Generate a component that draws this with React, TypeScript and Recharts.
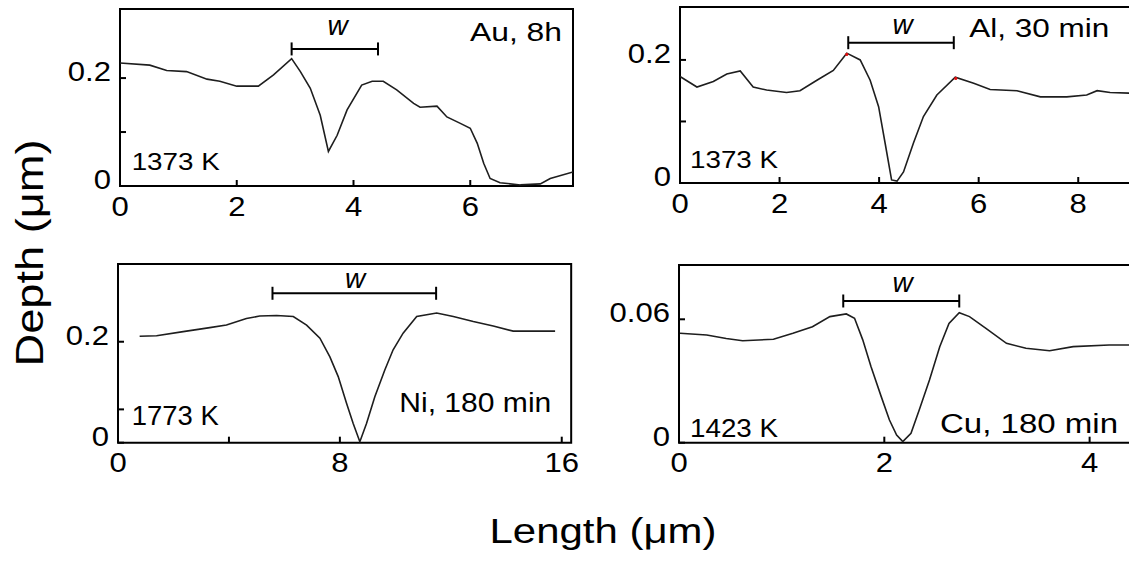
import React from 'react';
import { LineChart, Line, XAxis, YAxis, ReferenceArea, ReferenceLine, ReferenceDot } from 'recharts';

// Au, 8h (1373 K)
const auLength = [0, 0.51, 0.8, 1.14, 1.49, 1.71, 2.0, 2.37, 2.63, 2.94, 3.09, 3.26, 3.43, 3.57, 3.72, 3.89, 4.14, 4.32, 4.51, 4.74, 5.03, 5.14, 5.43, 5.6, 5.83, 6.0, 6.12, 6.23, 6.34, 6.51, 6.86, 7.2, 7.37, 7.76];
const auDepth = [0.228, 0.224, 0.214, 0.212, 0.198, 0.194, 0.185, 0.185, 0.206, 0.236, 0.212, 0.181, 0.131, 0.064, 0.094, 0.141, 0.187, 0.194, 0.194, 0.178, 0.153, 0.146, 0.148, 0.128, 0.116, 0.107, 0.079, 0.042, 0.014, 0.006, 0.002, 0.004, 0.014, 0.026];
const auW = [2.94, 4.42, 0.254];

// Al, 30 min (1373 K)
const alLength = [0, 0.34, 0.67, 0.94, 1.21, 1.47, 1.74, 2.14, 2.41, 2.75, 3.08, 3.35, 3.62, 3.82, 3.99, 4.12, 4.25, 4.36, 4.49, 4.69, 4.89, 5.16, 5.53, 5.9, 6.23, 6.77, 7.24, 7.77, 8.17, 8.38, 8.64, 9.06];
const alDepth = [0.173, 0.156, 0.165, 0.177, 0.182, 0.156, 0.151, 0.147, 0.15, 0.167, 0.183, 0.211, 0.2, 0.167, 0.124, 0.065, 0.005, 0.003, 0.018, 0.065, 0.108, 0.143, 0.172, 0.162, 0.152, 0.15, 0.14, 0.14, 0.143, 0.15, 0.147, 0.146];
const alW = [3.38, 5.5, 0.228];
const alMarks = [[3.35, 0.209], [5.54, 0.17]];

// Ni, 180 min (1773 K)
const niLength = [0.78, 1.39, 2.35, 3.31, 3.91, 4.63, 5.11, 5.72, 6.32, 6.8, 7.28, 7.64, 7.94, 8.24, 8.48, 8.72, 8.96, 9.26, 9.62, 9.92, 10.28, 10.77, 11.49, 12.09, 12.81, 13.53, 14.25, 15.76];
const niDepth = [0.211, 0.212, 0.22, 0.228, 0.233, 0.246, 0.251, 0.252, 0.25, 0.233, 0.207, 0.17, 0.131, 0.078, 0.038, 0.002, 0.038, 0.091, 0.144, 0.184, 0.217, 0.25, 0.257, 0.25, 0.24, 0.231, 0.221, 0.221];
const niW = [5.57, 11.47, 0.296];

// Cu, 180 min (1423 K)
const cuLength = [0.01, 0.27, 0.46, 0.62, 0.92, 1.11, 1.3, 1.47, 1.63, 1.71, 1.79, 1.87, 1.97, 2.05, 2.12, 2.18, 2.26, 2.34, 2.44, 2.54, 2.63, 2.73, 2.83, 2.99, 3.19, 3.38, 3.61, 3.84, 4.19, 4.4];
const cuDepth = [0.0532, 0.0524, 0.0507, 0.0496, 0.0503, 0.0532, 0.0564, 0.0613, 0.0626, 0.0605, 0.05, 0.037, 0.0224, 0.011, 0.0037, 0.0005, 0.0046, 0.0159, 0.0305, 0.0467, 0.058, 0.0632, 0.0613, 0.0556, 0.0483, 0.0459, 0.0447, 0.0467, 0.0475, 0.0475];
const cuW = [1.6, 2.73, 0.0689];

// axis ticks (labelled ones listed separately)
const auXTicks = [0, 2, 4, 6];
const alXTicks = [0, 2, 4, 6, 8];
const niXTicks = [0, 4, 8, 16];
const niXLabels = [0, 8, 16];
const cuXTicks = [0, 2, 4];
const y02Ticks = [0, 0.1, 0.2];
const niYTicks = [0, 0.066, 0.2];
const cuYTicks = [0, 0.06];

const FONT = '"Liberation Sans", Arial, Helvetica, sans-serif';
const YW = 70;
const XH = 45;
const PAD = 4;

const toRows = (xs: number[], ys: number[]) => xs.map((x, i) => ({ x, y: ys[i] }));

const XTick = (props: any) => {
  const { x, y, payload, shown } = props;
  if (!shown.includes(payload.value)) return null;
  return (
    <text transform={`translate(${x},${y + 19.5}) scale(1.15,1)`} textAnchor="middle"
      fontSize={27} fontFamily={FONT} fill="#000">{payload.value}</text>
  );
};

const YTick = (props: any) => {
  const { x, y, payload, shown } = props;
  if (!shown.includes(payload.value)) return null;
  return (
    <text transform={`translate(${x},${y + 3}) scale(1.15,1)`} textAnchor="end"
      fontSize={27} fontFamily={FONT} fill="#000">{payload.value}</text>
  );
};

const WBar = (p: any) => (
  <g>
    <line x1={p.x1} y1={p.y1} x2={p.x2} y2={p.y2} stroke="#000" strokeWidth={2} />
    <line x1={p.x1} y1={p.y1 - 6.5} x2={p.x1} y2={p.y1 + 6.5} stroke="#000" strokeWidth={2} />
    <line x1={p.x2} y1={p.y2 - 6.5} x2={p.x2} y2={p.y2 + 6.5} stroke="#000" strokeWidth={2} />
  </g>
);

type PanelProps = {
  xs: number[];
  ys: number[];
  w: number[];
  box: { left: number; top: number; right: number; bottom: number };
  xMax: number;
  yMax: number;
  xTicks: number[];
  xLabels: number[];
  yTicks: number[];
  yLabels: number[];
  marks?: number[][];
  padRight?: number;
};

const Panel = ({ xs, ys, w, box, xMax, yMax, xTicks, xLabels, yTicks, yLabels, marks = [], padRight = PAD }: PanelProps) => {
  const width = box.right - box.left + YW + padRight;
  const height = box.bottom - box.top + PAD + XH;
  return (
    <div style={{ position: 'absolute', left: box.left - YW, top: box.top - PAD }}>
      <LineChart width={width} height={height} data={toRows(xs, ys)}
        margin={{ top: PAD, right: padRight, bottom: 0, left: 0 }}>
        <XAxis type="number" dataKey="x" domain={[0, xMax]} ticks={xTicks} interval={0}
          allowDataOverflow height={XH} axisLine={false}
          tickLine={{ stroke: '#000', strokeWidth: 2 }} tickSize={-6} tickMargin={16}
          tick={<XTick shown={xLabels} />} />
        <YAxis type="number" domain={[0, yMax]} ticks={yTicks} interval={0}
          allowDataOverflow width={YW} axisLine={false}
          tickLine={{ stroke: '#000', strokeWidth: 2 }} tickSize={-6} tickMargin={15}
          tick={<YTick shown={yLabels} />} />
        <ReferenceArea x1={0} x2={xMax} y1={0} y2={yMax} fill="none" stroke="#000"
          strokeWidth={2} ifOverflow="visible" />
        <Line type="linear" dataKey="y" stroke="#1e1e1e" strokeWidth={1.6} dot={false}
          isAnimationActive={false} />
        <ReferenceLine segment={[{ x: w[0], y: w[2] }, { x: w[1], y: w[2] }]}
          ifOverflow="visible" shape={WBar} />
        {marks.map((m, i) => (
          <ReferenceDot key={i} x={m[0]} y={m[1]} r={1.6} fill="#e01010" stroke="none" />
        ))}
      </LineChart>
    </div>
  );
};

const Note = ({ x, y, size, len, children }: any) => (
  <text x={x} y={y} fontSize={size} fontFamily={FONT} fill="#000"
    textLength={len} lengthAdjust="spacingAndGlyphs">{children}</text>
);

const W = ({ x, y }: any) => (
  <text x={x} y={y} fontSize={28} fontStyle="italic" fontFamily={FONT} fill="#000"
    textAnchor="middle">w</text>
);

export default function App() {
  return (
    <div style={{ position: 'absolute', left: 0, top: 0, width: 1129, height: 561, overflow: 'hidden', background: '#fff' }}>
      <Panel xs={auLength} ys={auDepth} w={auW} padRight={24}
        box={{ left: 120, top: 9, right: 573, bottom: 186 }} xMax={7.76} yMax={0.328}
        xTicks={auXTicks} xLabels={auXTicks} yTicks={y02Ticks} yLabels={[0, 0.2]} />
      <Panel xs={alLength} ys={alDepth} w={alW} marks={alMarks}
        box={{ left: 680, top: 7, right: 1131, bottom: 183 }} xMax={9.06} yMax={0.286}
        xTicks={alXTicks} xLabels={alXTicks} yTicks={y02Ticks} yLabels={[0, 0.2]} />
      <Panel xs={niLength} ys={niDepth} w={niW} padRight={24}
        box={{ left: 118.3, top: 264, right: 571.5, bottom: 442.7 }} xMax={16.34} yMax={0.354}
        xTicks={niXTicks} xLabels={niXLabels} yTicks={niYTicks} yLabels={[0, 0.2]} />
      <Panel xs={cuLength} ys={cuDepth} w={cuW}
        box={{ left: 679.3, top: 265, right: 1131, bottom: 442.7 }} xMax={4.4} yMax={0.0864}
        xTicks={cuXTicks} xLabels={cuXTicks} yTicks={cuYTicks} yLabels={[0, 0.06]} />

      <svg width={1129} height={561} style={{ position: 'absolute', left: 0, top: 0, pointerEvents: 'none' }}>
        <Note x={470} y={40.7} size={25} len={92}>Au, 8h</Note>
        <Note x={131.7} y={170} size={23} len={88}>1373 K</Note>
        <W x={337.5} y={35} />

        <Note x={969.3} y={36.7} size={25.5} len={140}>Al, 30 min</Note>
        <Note x={690} y={168.3} size={23} len={88}>1373 K</Note>
        <W x={902.5} y={34.3} />

        <Note x={399.3} y={411.7} size={27} len={152}>Ni, 180 min</Note>
        <Note x={131.7} y={425} size={27} len={87}>1773 K</Note>
        <W x={355} y={288.3} />

        <Note x={940} y={433.3} size={27} len={178}>Cu, 180 min</Note>
        <Note x={690} y={436.7} size={25} len={88}>1423 K</Note>
        <W x={902.5} y={291.7} />

        <text transform="translate(43,253) rotate(-90)" textAnchor="middle" fontSize={38}
          fontFamily={FONT} fill="#000" textLength={227} lengthAdjust="spacingAndGlyphs">Depth (μm)</text>
        <text x={603} y={543} textAnchor="middle" fontSize={35} fontFamily={FONT} fill="#000"
          textLength={227} lengthAdjust="spacingAndGlyphs">Length (μm)</text>
      </svg>
    </div>
  );
}
